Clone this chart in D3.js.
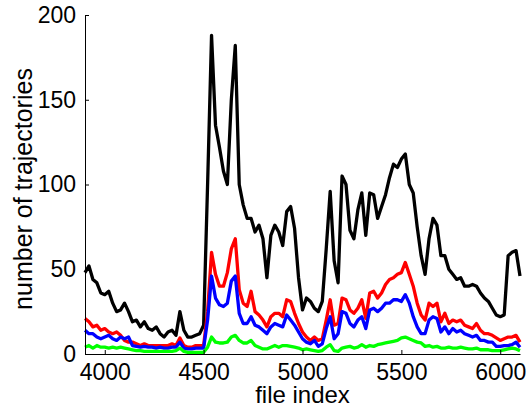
<!DOCTYPE html>
<html>
  <head>
    <meta charset="utf-8">
    <title>trajectories</title>
    <style>
      body { margin: 0; background: #fff; }
      text { font-family: "Liberation Sans", Arial, sans-serif; }
    </style>
  </head>
  <body>
    <div id="container"></div>
    <script src="https://cdnjs.cloudflare.com/ajax/libs/d3/7.8.5/d3.min.js"></script>
    <script>
      // file index runs 3900..6100, one sample every 20 files
      var fileStart = 3900, fileStep = 20;

      var blackVals = [
        48, 52, 44, 42, 36, 35, 37, 30, 25, 26,
        30, 25, 19, 20, 16, 19, 15, 14, 16, 12,
        10, 13, 14, 11, 25, 14, 10, 10, 11, 12,
        17, 100, 188, 135, 122, 108, 100, 150, 182, 100,
        88, 80, 80, 72, 76, 68, 45, 70, 76, 72,
        64, 84, 87, 74, 45, 26, 33, 31, 27, 25,
        31, 62, 96, 55, 42, 105, 100, 73, 68, 85,
        95, 70, 95, 94, 80, 87, 94, 104, 112, 110,
        115, 118, 100, 95, 75, 58, 47, 68, 80, 76,
        58, 58, 50, 47, 44, 45, 40, 40, 41, 40,
        36, 33, 31, 27, 23, 22, 23, 58, 60, 61,
        46
      ];
      var redVals = [
        21, 19, 16, 17, 14, 15, 13, 12, 13, 11,
        8, 7, 7, 6, 5, 6, 5, 5, 5, 5,
        5, 5, 6, 5, 9.5, 5, 4, 4, 5, 5,
        5, 25, 60, 47, 40, 40, 48, 62, 68, 38,
        30, 28, 37, 25, 23, 20, 16, 22, 24, 24,
        22, 32, 31, 24, 18, 13, 10, 8, 10, 8,
        9, 20, 32, 17, 18, 33, 32, 26, 24, 27,
        32, 21, 36, 37, 33, 36, 41, 44, 45, 47,
        48, 54, 47, 40, 30, 23, 20, 30, 28, 30,
        19, 24, 18, 20, 19, 20, 17, 16, 15, 18,
        14, 12, 12, 11, 9.5, 8, 9, 10, 10, 11,
        7
      ];
      var blueVals = [
        14, 12, 12, 10, 9, 10, 11, 9, 8, 10,
        9, 10, 5, 4.5, 4, 4.5, 4, 4, 3.5, 4,
        3.5, 3.5, 4, 4, 7, 3.5, 3, 3, 3.5, 3.5,
        3.5, 20, 46, 33, 29, 28, 30, 43, 46, 24,
        18, 18, 22, 17, 16, 14, 12, 16, 18, 17,
        16, 23, 20, 17, 13, 9, 7, 6, 8, 4.5,
        6, 15, 22, 9, 12, 25, 24, 18, 16, 20,
        22, 15, 26, 27, 25, 27, 30, 30, 32, 32,
        31, 35, 30, 22, 16, 12, 12, 20, 22, 21,
        13, 16, 12, 15, 13, 14, 12, 11, 10, 11,
        8, 8, 7, 7, 4.5, 4.5, 5, 5, 5.5, 7,
        4
      ];
      var greenVals = [
        4, 5, 3.5, 5, 4, 4, 3.5, 4, 3.5, 4,
        3.5, 3, 2.5, 2, 2, 1.5, 1.5, 1.5, 1.5, 1.5,
        1.5, 1.5, 1.5, 2, 3.5, 1.5, 1, 1, 1, 1,
        1, 4, 10, 7, 6.5, 6.5, 7, 10, 11, 8,
        6.5, 6.5, 8, 5, 4, 3, 3, 4, 5, 4,
        5, 5, 4.5, 4, 3.5, 2.5, 3, 2.5, 2, 1.5,
        2, 4, 5.5, 2, 1.5, 3.5, 4, 4.5, 3.5, 4,
        5.5, 4, 5, 4.5, 5.5, 6, 6.5, 7, 7.5, 8,
        9.5, 10, 9, 8, 7, 6.5, 4.5, 5, 4, 4.5,
        3.5, 3.5, 4, 3.5, 3.5, 4, 3.5, 3, 3, 3.5,
        2.5, 2.5, 2.5, 2, 2, 2, 2.5, 3, 3.5, 3,
        2
      ];

      var xTicks = [4000, 4500, 5000, 5500, 6000];
      var yTicks = [0, 50, 100, 150, 200];

      var series = [
        {vals: blackVals, color: "#000000"},
        {vals: redVals, color: "#ff0000"},
        {vals: blueVals, color: "#0000ff"},
        {vals: greenVals, color: "#00ff00"}
      ];

      var W = 528, H = 407;
      var margin = {top: 15, right: 8, bottom: 53, left: 85};

      var svg = d3.select("#container").append("svg")
        .attr("width", W)
        .attr("height", H);

      var x = d3.scaleLinear().domain([3900, 6100]).range([margin.left, W - margin.right]);
      var y = d3.scaleLinear().domain([0, 200]).range([H - margin.bottom, margin.top]);

      var line = d3.line()
        .x(function(d, i) { return x(fileStart + i * fileStep); })
        .y(function(d) { return y(d); });

      svg.selectAll("path.series")
        .data(series)
        .enter().append("path")
          .attr("class", "series")
          .attr("d", function(s) { return line(s.vals); })
          .attr("fill", "none")
          .attr("stroke", function(s) { return s.color; })
          .attr("stroke-width", 3.3)
          .attr("stroke-linejoin", "round");

      // axes, matlab style ticks pointing in
      var xAxis = svg.append("g")
        .attr("transform", "translate(0," + y(0) + ")")
        .call(d3.axisBottom(x).tickValues(xTicks).tickFormat(d3.format("d"))
          .tickSizeInner(-4).tickSizeOuter(0).tickPadding(10));
      var yAxis = svg.append("g")
        .attr("transform", "translate(" + x(3900) + ",0)")
        .call(d3.axisLeft(y).tickValues(yTicks).tickFormat(d3.format("d"))
          .tickSizeInner(-4).tickSizeOuter(0).tickPadding(9));

      [xAxis, yAxis].forEach(function(g) {
        g.select(".domain").attr("stroke", "#000").attr("stroke-width", 1);
        g.selectAll(".tick line").attr("stroke", "#000");
        g.selectAll(".tick text")
          .attr("fill", "#000")
          .style("font-size", "23px")
          .style("font-family", "'Liberation Sans', Arial, sans-serif");
      });

      svg.append("text")
        .text("file index")
        .attr("x", x(5000))
        .attr("y", 403)
        .attr("text-anchor", "middle")
        .style("font-size", "24px");

      svg.append("text")
        .text("number of trajectories")
        .attr("transform", "translate(32," + 189 + ") rotate(-90)")
        .attr("text-anchor", "middle")
        .style("font-size", "25px");
    </script>
  </body>
</html>
